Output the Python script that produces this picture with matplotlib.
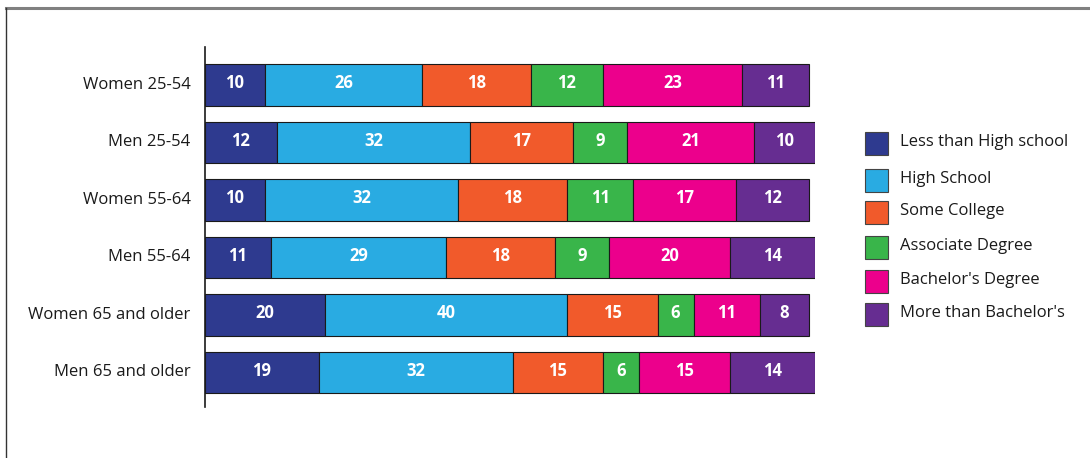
import matplotlib
matplotlib.use("Agg")
import matplotlib.pyplot as plt
from matplotlib.patches import Rectangle
from matplotlib.lines import Line2D

categories = ["Women 25-54", "Men 25-54", "Women 55-64", "Men 55-64",
              "Women 65 and older", "Men 65 and older"]
series_names = ["Less than High school", "High School", "Some College",
                "Associate Degree", "Bachelor's Degree", "More than Bachelor's"]
less_hs = [10, 12, 10, 11, 20, 19]
high_school = [26, 32, 32, 29, 40, 32]
some_college = [18, 17, 18, 18, 15, 15]
associate = [12, 9, 11, 9, 6, 6]
bachelors = [23, 21, 17, 20, 11, 15]
more_bachelors = [11, 10, 12, 14, 8, 14]
colors = ["#2E3A8F", "#29ABE2", "#F15A2B", "#39B54A", "#EC008C", "#662D91"]

series = [less_hs, high_school, some_college, associate, bachelors, more_bachelors]

plt.rcParams['font.family'] = ['Open Sans', 'DejaVu Sans']

W, H = 1090, 458
fig = plt.figure(figsize=(W / 100, H / 100), dpi=100)

# frame
fig.add_artist(Line2D([6 / W, 1], [1 - 8 / H, 1 - 8 / H], color="#808080", lw=2.2, transform=fig.transFigure))
fig.add_artist(Line2D([6 / W, 6 / W], [0, 1 - 8 / H], color="#333333", lw=1.0, transform=fig.transFigure))

x0, xend = 204.5, 204.5 + 101 * 6.04
ytop, ybot = 47, 407
ax = fig.add_axes([x0 / W, 1 - ybot / H, (xend - x0) / W, (ybot - ytop) / H])
ax.set_xlim(0, 101)
ax.set_ylim(5.6, -0.66)

y = list(range(len(categories)))
left = [0] * len(categories)
for vals, col in zip(series, colors):
    ax.barh(y, vals, left=left, height=0.72, color=col, edgecolor="#1a1a1a", linewidth=0.8)
    for i, v in enumerate(vals):
        ax.text(left[i] + v / 2, y[i] - 0.03, str(v), ha="center", va="center",
                color="white", fontsize=12, fontweight="bold")
    left = [l + v for l, v in zip(left, vals)]

ax.set_yticks(y)
ax.set_yticklabels(categories, fontsize=12, color="#1a1a1a")
for lbl in ax.get_yticklabels():
    lbl.set_va("center")
ax.tick_params(axis="y", length=0, pad=10)
ax.set_xticks([])
for s in ["top", "right", "bottom"]:
    ax.spines[s].set_visible(False)
ax.spines["left"].set_color("#1a1a1a")
ax.spines["left"].set_linewidth(1.2)

# legend
rows = [143, 180, 212, 247, 281, 314]
for name, col, ry in zip(series_names, colors, rows):
    fig.add_artist(Rectangle((865 / W, 1 - (ry + 11.5) / H), 23 / W, 23 / H, transform=fig.transFigure,
                             facecolor=col, edgecolor="#444444", linewidth=0.8))
    fig.text(900 / W, 1 - (ry - 1) / H, name, ha="left", va="center", fontsize=12, color="#1a1a1a")

fig.savefig("out.png", dpi=100)
